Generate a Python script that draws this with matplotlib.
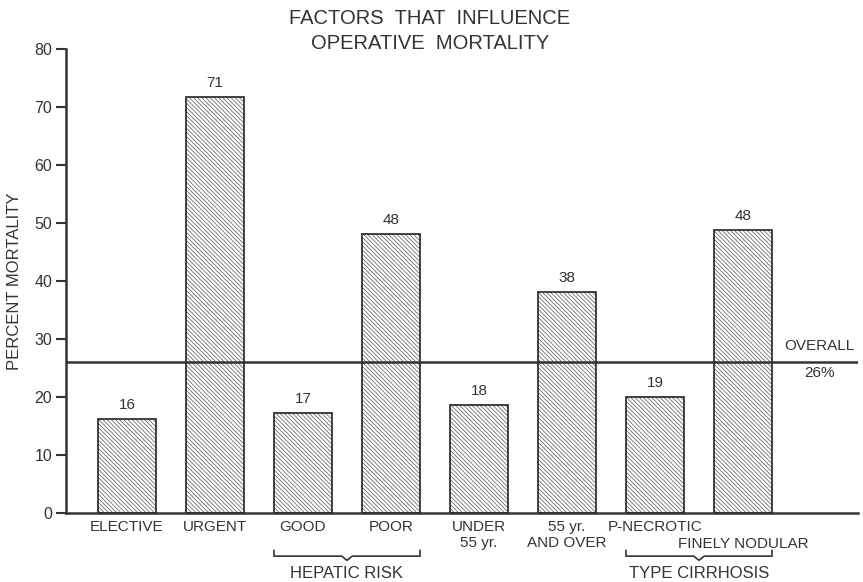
import matplotlib.pyplot as plt
from matplotlib.transforms import blended_transform_factory

plt.rcParams['font.family'] = ['Liberation Sans', 'DejaVu Sans']
plt.rcParams['hatch.linewidth'] = 0.5

INK = '#333333'

# values
categories = ['ELECTIVE', 'URGENT', 'GOOD', 'POOR',
              'UNDER\n55 yr.', '55 yr.\nAND OVER', 'P-NECROTIC', 'FINELY NODULAR']
label_rows = [0, 0, 0, 0, 0, 0, 0, 1]   # FINELY NODULAR sits on the second row
heights = [16.2, 71.7, 17.2, 48.1, 18.6, 38.1, 20.0, 48.8]
value_labels = ['16', '71', '17', '48', '18', '38', '19', '48']
overall = 26
groups = [('HEPATIC RISK', 2, 3), ('TYPE CIRRHOSIS', 6, 7)]

fig = plt.figure(figsize=(8.63, 5.82), dpi=100)
ax = fig.add_axes([0.0765, 0.1186, 0.9177, 0.7972])

x = list(range(len(categories)))
bar_w = 0.66

# hatched fill, then a dark outline on top
ax.bar(x, heights, width=bar_w, color='white', edgecolor='#555555',
       hatch='\\' * 8, linewidth=0, zorder=2)
ax.bar(x, heights, width=bar_w, fill=False, edgecolor=INK, linewidth=1.3, zorder=3)

for xi, h, lab in zip(x, heights, value_labels):
    ax.annotate(lab, (xi, h), xytext=(0, 5), textcoords='offset points',
                ha='center', va='bottom', fontsize=11, color=INK)

# overall line
ax.axhline(overall, color=INK, linewidth=1.8, zorder=4)
ax.text(7.87, overall + 1.5, 'OVERALL', ha='center', va='bottom', fontsize=11, color=INK)
ax.text(7.87, overall - 0.7, f'{overall}%', ha='center', va='top', fontsize=11, color=INK)

ax.set_xlim(-0.693, 8.307)
ax.set_ylim(0, 80)
ax.set_yticks(range(0, 81, 10))
ax.set_xticks([])
ax.tick_params(axis='y', direction='out', length=7, width=1.5, pad=3,
               labelsize=11.5, colors=INK)
for side in ['top', 'right']:
    ax.spines[side].set_visible(False)
for side in ['left', 'bottom']:
    ax.spines[side].set_linewidth(1.8)
    ax.spines[side].set_color(INK)

ax.set_ylabel('PERCENT MORTALITY', fontsize=12, color=INK, labelpad=9)

# category labels under the bars
trans = blended_transform_factory(ax.transData, ax.transAxes)
row_y = [-0.015, -0.052]
for xi, cat, row in zip(x, categories, label_rows):
    ax.text(xi, row_y[row], cat, transform=trans, ha='center', va='top',
            fontsize=11, color=INK, linespacing=1.15)

# braces under grouped bars
for name, i0, i1 in groups:
    x0 = i0 - bar_w / 2
    x1 = i1 + bar_w / 2
    xm = (x0 + x1) / 2
    yb = -0.093
    ax.plot([x0, x0, xm - 0.06, xm, xm + 0.06, x1, x1],
            [-0.081, yb, yb, yb - 0.009, yb, yb, -0.081],
            transform=trans, color=INK, linewidth=1.2, clip_on=False)
    ax.text(xm, -0.114, name, transform=trans, ha='center', va='top',
            fontsize=12, color=INK)

fig.text(0.498, 0.985, 'FACTORS  THAT  INFLUENCE\nOPERATIVE  MORTALITY',
         ha='center', va='top', fontsize=14.5, color=INK, linespacing=1.4)

fig.savefig('out.png', dpi=100)
